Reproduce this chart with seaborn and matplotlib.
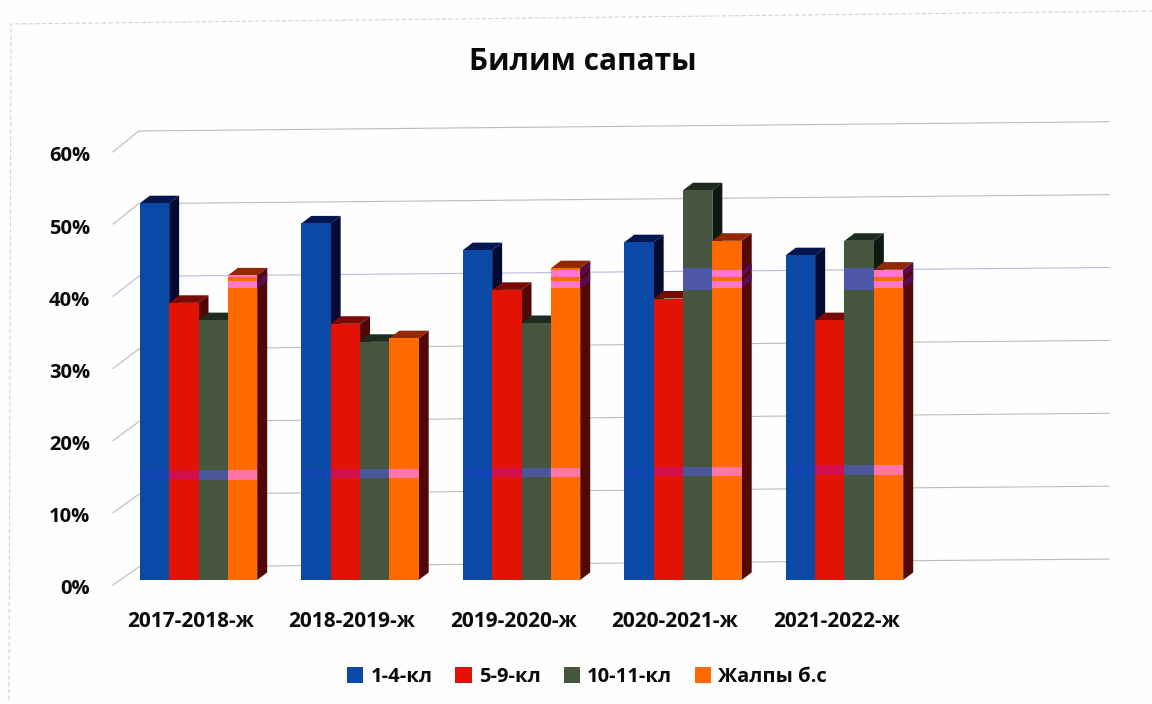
import matplotlib
matplotlib.use("Agg")
import matplotlib.pyplot as plt
from matplotlib.lines import Line2D
from matplotlib.patches import Polygon, Rectangle
from matplotlib.transforms import ScaledTranslation
import seaborn as sns
import pandas as pd

years = ["2017-2018-ж", "2018-2019-ж", "2019-2020-ж", "2020-2021-ж", "2021-2022-ж"]
series = ["1-4-кл", "5-9-кл", "10-11-кл", "Жалпы б.с"]
grade_1_4 = [52.2, 49.4, 45.7, 46.8, 45.0]
grade_5_9 = [38.4, 35.5, 40.2, 39.0, 36.0]
grade_10_11 = [36.0, 33.0, 35.6, 54.0, 47.0]
total = [42.2, 33.5, 43.2, 47.0, 43.0]
y_ticks = [0, 10, 20, 30, 40, 50, 60]

front_colors = ["#0b49a6", "#e21206", "#47573f", "#ff6a00"]
side_colors = ["#010b33", "#4f0805", "#0d1a10", "#520805"]
top_colors = ["#03164f", "#7a0a05", "#1d2c20", "#932805"]
glare_low = ["#1346b4", "#cf1058", "#4c58a8", "#ff78c4"]

sns.set_theme(style="white")
plt.rcParams["font.family"] = ["Open Sans", "DejaVu Sans"]
plt.rcParams["font.weight"] = "bold"

df = pd.DataFrame({
    "year": years * 4,
    "group": [s for s in series for _ in years],
    "value": grade_1_4 + grade_5_9 + grade_10_11 + total,
})

fig = plt.figure(figsize=(11.52, 7.04), dpi=100, facecolor="#fefefe")
ax = fig.add_axes([117.75 / 1152, 124 / 704, 807.5 / 1152, 433 / 704])
ax.patch.set_alpha(0)

sns.barplot(data=df, x="year", y="value", hue="group", hue_order=series,
            palette=front_colors, width=0.727, gap=0, saturation=1, ax=ax,
            errorbar=None, legend=False)
ax.set_xlim(-0.5, 4.5)
ax.set_ylim(0, 60)
ax.set_xlabel("")
ax.set_ylabel("")
sns.despine(ax=ax, left=True, bottom=True)
ax.tick_params(length=0)

# skewed walls, the 3d look of the original
for v in y_ticks:
    color = "#b8bade" if v == 40 else "#bcbcb4"
    ax.plot([-0.53, -0.37, 5.64], [v - 0.7, v + 1.8 + v * 0.007, v + 2.9 + v * 0.01],
            color=color, lw=0.8, clip_on=False, zorder=1)

# depth of one bar in data units
dx = 10 / 161.5
dy = 1.05

bars = [p for p in ax.patches if p.get_height() > 0]
bars = sorted(bars, key=lambda p: p.get_x())
for k, bar in enumerate(bars):
    s = k % 4
    x0 = bar.get_x()
    x1 = x0 + bar.get_width()
    h = bar.get_height()
    z = 3 + k
    bar.set_zorder(z + 0.2)
    bar.set_linewidth(0)
    ax.add_patch(Polygon([(x1, 0), (x1 + dx, dy), (x1 + dx, h + dy), (x1, h)],
                         color=side_colors[s], lw=0, zorder=z))
    ax.add_patch(Polygon([(x0, h), (x0 + dx, h + dy), (x1 + dx, h + dy), (x1, h)],
                         color=top_colors[s], lw=0, zorder=z))
    # light reflected on the photographed page
    drift = (k // 4) * 0.17
    ax.add_patch(Rectangle((x0, 13.9 + drift), x1 - x0, 1.3, color=glare_low[s], lw=0,
                           alpha=0.85, zorder=z + 0.3))
    if s == 2 and h > 43:
        ax.add_patch(Rectangle((x0, 40.2), x1 - x0, 3.1, color="#4f57b4", lw=0,
                               alpha=0.9, zorder=z + 0.3))
    if s == 3 and h > 40:
        for lo, hi in [(40.4, 41.5), (42.0, 42.9)]:
            hi = min(hi, h)
            ax.add_patch(Rectangle((x0, lo), x1 - x0, hi - lo, color="#ff78c4", lw=0,
                                   zorder=z + 0.3))
            ax.add_patch(Polygon([(x1, lo), (x1 + dx, lo + dy), (x1 + dx, hi + dy), (x1, hi)],
                                 color="#5a0a50", lw=0, zorder=z + 0.1))

ax.set_yticks(y_ticks)
ax.set_yticklabels([f"{v}%" for v in y_ticks], fontsize=14.5, fontweight="bold", color="#0a0a0a")
ax.set_xticks(range(len(years)))
ax.set_xticklabels(years, fontsize=15, fontweight="bold", color="#0a0a0a")
ax.tick_params(axis="y", pad=20)
ax.tick_params(axis="x", pad=22)
for lab in ax.get_yticklabels():
    lab.set_transform(lab.get_transform() + ScaledTranslation(0, -5 / 72, fig.dpi_scale_trans))
for lab in ax.get_xticklabels():
    lab.set_transform(lab.get_transform() + ScaledTranslation(-8 / 100, 0, fig.dpi_scale_trans))

fig.text(583 / 1152, 1 - 62 / 704, "Билим сапаты", ha="center", va="center",
         fontsize=21.5, fontweight="bold", color="#0a0a0a")

handles = [Rectangle((0, 0), 1, 1, color=c, lw=0) for c in front_colors]
fig.legend(handles, series, loc="center", bbox_to_anchor=(587 / 1152, 1 - 677 / 704), ncol=4,
           frameon=False, handlelength=0.8, handleheight=0.8, handletextpad=0.35,
           columnspacing=1.15, prop={"size": 14.5, "weight": "bold"}, labelcolor="#0a0a0a")

# faint frame of the original chart area
fig.add_artist(Line2D([9 / 1152, 11 / 1152, 1152 / 1152], [4 / 704, 1 - 24 / 704, 1 - 11 / 704],
                      color="#cfd4d4", lw=0.8, ls=(0, (4, 2))))

fig.savefig("out.png", dpi=100, facecolor=fig.get_facecolor())
